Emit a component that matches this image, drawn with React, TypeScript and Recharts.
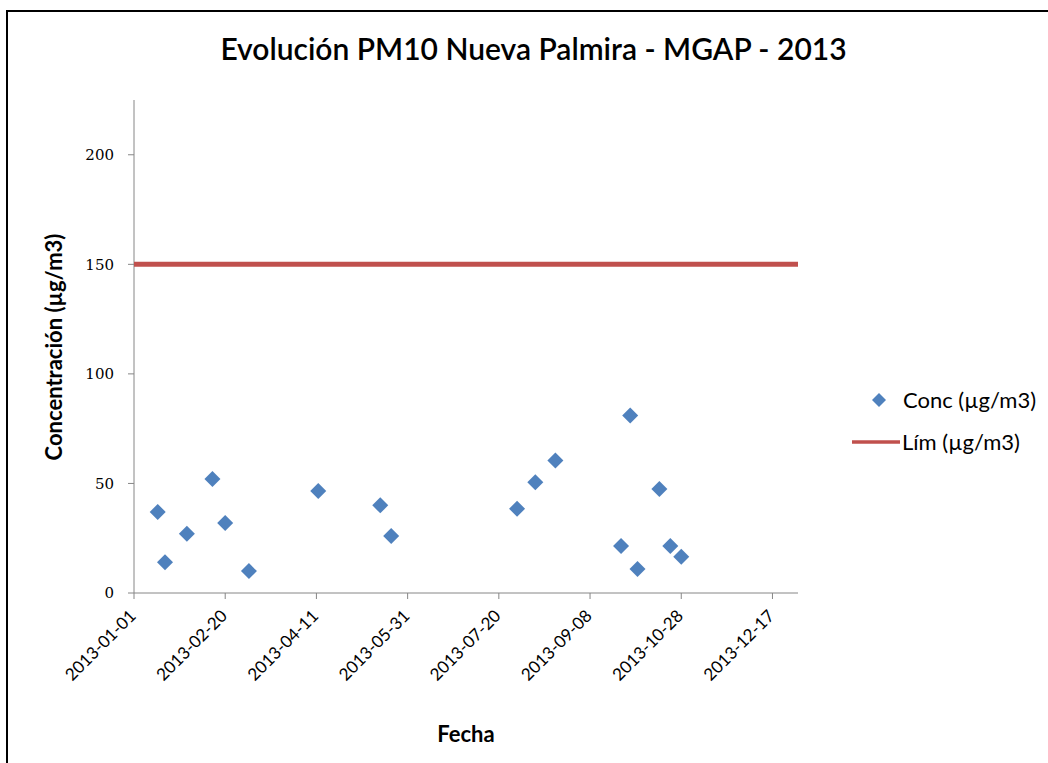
import React from 'react';
import {
  ScatterChart,
  Scatter,
  XAxis,
  YAxis,
} from 'recharts';

// sampling dates and PM10 concentrations (µg/m3)
const sampleDates = [
  '2013-01-14', '2013-01-18', '2013-01-30', '2013-02-13', '2013-02-20',
  '2013-03-05', '2013-04-12', '2013-05-16', '2013-05-22', '2013-07-30',
  '2013-08-09', '2013-08-20', '2013-09-25', '2013-09-30', '2013-10-04',
  '2013-10-16', '2013-10-22', '2013-10-28',
];
const concValues = [37, 14, 27, 52, 32, 10, 46.5, 40, 26, 38.5, 50.5, 60.5, 21.5, 81, 11, 47.5, 21.5, 16.5];

// limit line end points
const limitDates = ['2013-01-01', '2014-01-01'];
const limitValue = 150;

const xTickLabels = [
  '2013-01-01', '2013-02-20', '2013-04-11', '2013-05-31',
  '2013-07-20', '2013-09-08', '2013-10-28', '2013-12-17',
];
const yTicks = [0, 50, 100, 150, 200];

const START = Date.UTC(2013, 0, 1);
const toDay = (d: string) => {
  const [y, m, dd] = d.split('-').map(Number);
  return Math.round((Date.UTC(y, m - 1, dd) - START) / 86400000);
};

const data = sampleDates.map((d, i) => ({ day: toDay(d), conc: concValues[i] }));
const limitData = limitDates.map((d) => ({ day: toDay(d), conc: limitValue }));
const xTicks = xTickLabels.map(toDay);

const BLUE = '#4F81BD';
const RED = '#C0504D';
const AXIS = '#868686';
const FONT = 'Lato, "Open Sans", sans-serif';

const Diamond = (props: any) => {
  const { cx, cy } = props;
  const r = 8;
  return (
    <path
      d={`M${cx},${cy - r} L${cx + r},${cy} L${cx},${cy + r} L${cx - r},${cy} Z`}
      fill={BLUE}
    />
  );
};

const XTick = (props: any) => {
  const { x, y, payload } = props;
  const tx = x + 3;
  const ty = y + 16;
  const label = xTickLabels[xTicks.indexOf(payload.value)] ?? '';
  return (
    <text
      x={tx}
      y={ty}
      textAnchor="end"
      transform={`rotate(-45, ${tx}, ${ty})`}
      fontFamily={FONT}
      fontSize={17}
      fill="#000"
    >
      {label}
    </text>
  );
};

export default function App() {
  return (
    <div style={{ position: 'absolute', left: 0, top: 0, width: 1048, height: 763, background: '#fff', overflow: 'hidden' }}>
      <div
        style={{
          position: 'absolute', left: 6, top: 10, width: 1100, height: 800,
          border: '2px solid #000', boxSizing: 'border-box',
        }}
      />
      <div
        style={{
          position: 'absolute', left: 0, top: 29, width: 1067, textAlign: 'center',
          fontFamily: FONT, fontSize: 30, fontWeight: 600, color: '#000', lineHeight: '38px',
        }}
      >
        Evolución PM10 Nueva Palmira - MGAP - 2013
      </div>
      <div style={{ position: 'absolute', left: 0, top: 0 }}>
        <ScatterChart width={1048} height={763} margin={{ top: 100, right: 250, bottom: 0, left: 0 }}>
          <XAxis
            type="number"
            dataKey="day"
            domain={[0, 364]}
            allowDataOverflow
            ticks={xTicks}
            interval={0}
            stroke={AXIS}
            tickSize={6}
            height={170}
            tick={<XTick />}
            label={{
              content: () => (
                <text x={466} y={742} textAnchor="middle" fontFamily={FONT} fontWeight={700} fontSize={22} fill="#000">
                  Fecha
                </text>
              ),
            }}
          />
          <YAxis
            type="number"
            dataKey="conc"
            domain={[0, 225]}
            ticks={yTicks}
            interval={0}
            width={134}
            stroke={AXIS}
            tickSize={6}
            tickMargin={14}
            tick={{ fill: '#000', fontSize: 15, fontFamily: '"DejaVu Serif", serif' }}
            label={{
              content: () => (
                <text
                  x={62}
                  y={347}
                  textAnchor="middle"
                  transform="rotate(-90, 62, 347)"
                  fontFamily={FONT}
                  fontWeight={700}
                  fontSize={22}
                  fill="#000"
                >
                  Concentración (µg/m3)
                </text>
              ),
            }}
          />
          <Scatter
            name="Lím (µg/m3)"
            data={limitData}
            line={{ stroke: RED, strokeWidth: 5 }}
            shape={() => <g />}
            isAnimationActive={false}
          />
          <Scatter name="Conc (µg/m3)" data={data} fill={BLUE} shape={<Diamond />} isAnimationActive={false} />
        </ScatterChart>
      </div>
      <svg style={{ position: 'absolute', left: 0, top: 0 }} width={1048} height={763}>
        <path d="M879,393 L886,400 L879,407 L872,400 Z" fill={BLUE} />
        <text x={903} y={408} fontFamily={FONT} fontSize={22} fill="#000">Conc (µg/m3)</text>
        <line x1={852} y1={442} x2={900} y2={442} stroke={RED} strokeWidth={3.5} />
        <text x={902} y={450} fontFamily={FONT} fontSize={22} fill="#000">Lím (µg/m3)</text>
      </svg>
    </div>
  );
}
